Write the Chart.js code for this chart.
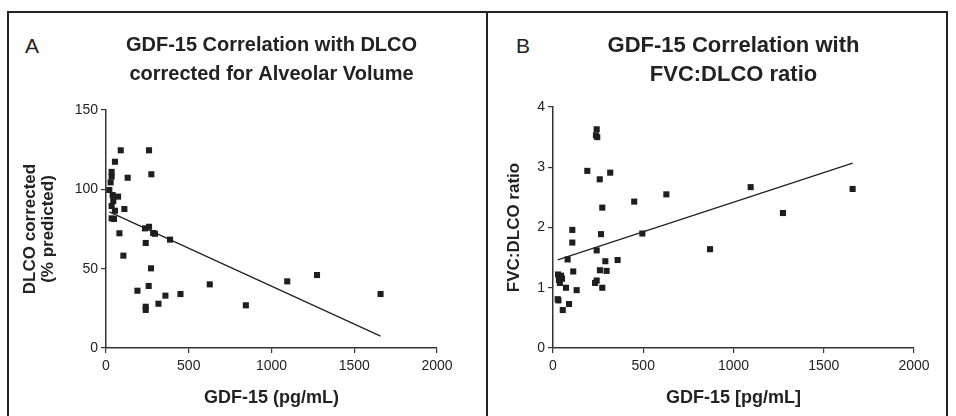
<!DOCTYPE html>
<html>
<head>
<meta charset="utf-8">
<title>GDF-15 correlations</title>
<script src="https://cdn.jsdelivr.net/npm/chart.js@4.4.1/dist/chart.umd.min.js"></script>
<style>
  html, body { margin: 0; padding: 0; background: #fff; }
  body { width: 956px; height: 416px; position: relative; overflow: hidden; font-family: 'Liberation Sans', Arial, sans-serif; }
  .frame { position: absolute; left: 7px; top: 11px; width: 941px; height: 430px; border: 2px solid #222; box-sizing: border-box; }
  .divider { position: absolute; left: 486px; top: 11px; width: 2px; height: 420px; background: #222; }
  .panel { position: absolute; top: 13px; }
  #panelA { left: 9px; }
  #panelB { left: 488px; }
  .tag { position: absolute; top: 35px; font-size: 21px; line-height: 1; color: #222; }
</style>
</head>
<body>
<div class="frame"></div>
<div class="divider"></div>
<div class="tag" style="left:25px">A</div>
<div class="tag" style="left:516px">B</div>
<canvas id="panelA" class="panel" width="477" height="403"></canvas>
<canvas id="panelB" class="panel" width="458" height="403"></canvas>
<script>
// panel A: GDF-15 vs DLCO corrected (% predicted)
const gdfA = [89, 260, 54, 34, 34, 274, 131, 28, 20, 40, 73, 44, 34, 54, 111, 34, 48, 236, 260, 285,
  296, 387, 81, 240, 105, 272, 190, 258, 240, 240, 317, 359, 450, 627, 845, 1095, 1275, 1659];
const dlcoA = [124.6, 124.6, 117.4, 111, 108, 109.5, 107.3, 104.4, 99.6, 96.4, 95.4, 92.6, 89.5, 86.5, 87.6, 81.7, 81.3, 75.4, 76.4, 72.5,
  72, 68.3, 72.3, 66.2, 58.2, 50.2, 36.1, 39.1, 26, 24, 27.9, 33, 34, 40.1, 26.9, 42, 46, 34];
const fitA = { intercept: 86.8, slope: -0.0478 };

// panel B: GDF-15 vs FVC:DLCO ratio
const gdfB = [242, 238, 245, 190, 317, 259, 628, 450, 273, 107, 266, 495, 107, 242, 81, 290, 358, 260, 297, 112,
  28, 45, 33, 50, 38, 242, 233, 72, 273, 131, 26, 30, 89, 54, 1095, 1274, 1660, 870];
const ratioB = [3.63, 3.53, 3.50, 2.94, 2.91, 2.80, 2.55, 2.43, 2.33, 1.96, 1.89, 1.90, 1.75, 1.62, 1.47, 1.44, 1.46, 1.29, 1.28, 1.27,
  1.22, 1.20, 1.13, 1.15, 1.08, 1.12, 1.08, 1.00, 1.00, 0.96, 0.81, 0.79, 0.73, 0.63, 2.67, 2.24, 2.64, 1.64];
const fitB = { intercept: 1.438, slope: 0.000983 };

const xTicksMax = 2000;
const INK = '#1e1e1e';
const AXIS = '#333';
const TICK_FONT = { family: "'Liberation Sans', Arial, sans-serif", size: 14 };
const BOLD = "'Liberation Sans', Arial, sans-serif";

function fitLine(xs, fit) {
  const lo = Math.min(...xs);
  const hi = Math.max(...xs);
  return [lo, hi].map((x) => ({ x, y: fit.intercept + fit.slope * x }));
}

// plain numbers, no thousands separator
const plainTick = (v) => String(v);

function buildPanel(canvasId, cfg) {
  const points = cfg.xs.map((x, i) => ({ x, y: cfg.ys[i] }));

  const axisGrid = {
    display: true,
    drawOnChartArea: false,
    drawTicks: true,
    tickLength: 5,
    color: AXIS,
    lineWidth: 1.2,
  };

  return new Chart(document.getElementById(canvasId), {
    type: 'scatter',
    data: {
      datasets: [
        {
          data: points,
          pointStyle: 'rect',
          pointRadius: 4.3,
          pointBackgroundColor: INK,
          pointBorderWidth: 0,
        },
        {
          type: 'line',
          data: fitLine(cfg.xs, cfg.fit),
          borderColor: '#222',
          borderWidth: 1.3,
          pointRadius: 0,
          fill: false,
        },
      ],
    },
    options: {
      responsive: false,
      animation: false,
      devicePixelRatio: 1,
      layout: { padding: { left: 0, right: cfg.padRight, top: 0, bottom: 0 } },
      plugins: {
        legend: { display: false },
        tooltip: { enabled: false },
        title: {
          display: true,
          fullSize: false,
          text: cfg.title,
          color: '#222',
          font: { family: BOLD, size: cfg.titleSize, weight: 'bold', lineHeight: 29 / cfg.titleSize },
          padding: { top: 18, bottom: cfg.titleGap },
        },
      },
      scales: {
        x: {
          type: 'linear',
          min: 0,
          max: xTicksMax,
          ticks: { stepSize: 500, color: '#222', font: TICK_FONT, padding: 5, maxRotation: 0, callback: plainTick },
          grid: axisGrid,
          border: { display: true, color: AXIS, width: 1.5 },
          title: {
            display: true,
            text: cfg.xTitle,
            color: '#222',
            font: { family: BOLD, size: 18, weight: 'bold' },
            padding: { top: 0, bottom: 7 },
          },
          afterFit(scale) { scale.height = 68; },
        },
        y: {
          type: 'linear',
          min: 0,
          max: cfg.yMax,
          ticks: { stepSize: cfg.yStep, color: '#222', font: TICK_FONT, padding: 3, callback: plainTick },
          grid: axisGrid,
          border: { display: true, color: AXIS, width: 1.5 },
          title: {
            display: true,
            text: cfg.yTitle,
            color: '#222',
            font: { family: BOLD, size: 17, weight: 'bold', lineHeight: 18 / 17 },
            padding: { top: cfg.yTitlePad, bottom: 0 },
          },
          afterFit(scale) { scale.width = cfg.yWidth; },
        },
      },
    },
  });
}

buildPanel('panelA', {
  xs: gdfA,
  ys: dlcoA,
  fit: fitA,
  title: ['GDF-15 Correlation with DLCO', 'corrected for Alveolar Volume'],
  titleSize: 20,
  titleGap: 21,
  xTitle: 'GDF-15 (pg/mL)',
  yTitle: ['DLCO corrected', '(% predicted)'],
  yTitlePad: 12,
  yMax: 150,
  yStep: 50,
  yWidth: 97,
  padRight: 49,
});

buildPanel('panelB', {
  xs: gdfB,
  ys: ratioB,
  fit: fitB,
  title: ['GDF-15 Correlation with', 'FVC:DLCO ratio'],
  titleSize: 22,
  titleGap: 18,
  xTitle: 'GDF-15 [pg/mL]',
  yTitle: 'FVC:DLCO ratio',
  yTitlePad: 17,
  yMax: 4,
  yStep: 1,
  yWidth: 65,
  padRight: 32,
});
</script>
</body>
</html>
